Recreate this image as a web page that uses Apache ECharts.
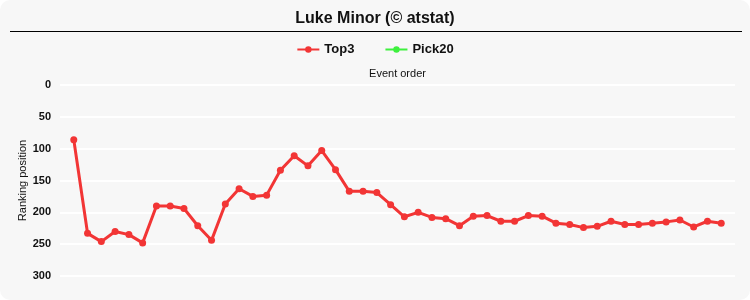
<!DOCTYPE html>
<html>
<head>
<meta charset="utf-8">
<script src="https://cdn.jsdelivr.net/npm/echarts@6/dist/echarts.min.js"></script>
<style>
html,body{margin:0;padding:0;background:#ffffff;}
#main{width:750px;height:300px;background:#f7f7f7;border-radius:10px;overflow:hidden;}
</style>
</head>
<body>
<div id="main"></div>
<script>
var titleText = 'Luke Minor (\u00A9 atstat)';
var seriesNames = ['Top3', 'Pick20'];
var eventIndex = [1,2,3,4,5,6,7,8,9,10,11,12,13,14,15,16,17,18,19,20,21,22,23,24,25,26,27,28,29,30,31,32,33,34,35,36,37,38,39,40,41,42,43,44,45,46,47,48];
var top3 = [86,233,246,230,235,248,190,190,194,221,244,187,163,175,173,134,111,127,103,133,167,167,169,188,207,200,208,210,221,206,205,214,214,205,206,217,219,224,222,214,219,219,217,215,212,223,214,217];
var pick20 = [];
var yTicks = [0,50,100,150,200,250,300];

var chart = echarts.init(document.getElementById('main'), null, {renderer:'canvas'});
var top3Data = eventIndex.map(function(x,i){return [x, top3[i]];});
var pick20Data = pick20.map(function(v,i){return [eventIndex[i], v];});

chart.setOption({
  backgroundColor: 'transparent',
  animation: false,
  title: {
    text: titleText,
    left: 'center',
    top: 6,
    textStyle: {fontFamily: 'Liberation Sans, Arial, sans-serif', fontSize: 16, fontWeight: 'bold', color: '#111'}
  },
  graphic: [{
    type: 'line',
    shape: {x1: 10, y1: 31.5, x2: 742, y2: 31.5},
    style: {stroke: '#000', lineWidth: 1}
  }],
  legend: {
    top: 38,
    left: 'center',
    itemGap: 30,
    itemWidth: 22,
    itemHeight: 8,
    textStyle: {fontFamily: 'Liberation Sans, Arial, sans-serif', fontSize: 13, fontWeight: 'bold', color: '#111'},
    data: seriesNames
  },
  grid: {left: 60, right: 15, top: 85, bottom: 24},
  xAxis: {
    type: 'value',
    position: 'top',
    min: 0,
    max: 49,
    name: 'Event order',
    nameLocation: 'middle',
    nameGap: 11,
    nameTextStyle: {fontFamily: 'Liberation Sans, Arial, sans-serif', fontSize: 11, color: '#111', verticalAlign: 'middle'},
    axisLine: {show: false},
    axisTick: {show: false},
    axisLabel: {show: false},
    splitLine: {show: false}
  },
  yAxis: {
    type: 'value',
    inverse: true,
    min: yTicks[0],
    max: yTicks[yTicks.length-1],
    interval: yTicks[1]-yTicks[0],
    name: 'Ranking position',
    nameLocation: 'middle',
    nameGap: 32,
    nameMoveOverlap: false,
    nameTextStyle: {fontFamily: 'Liberation Sans, Arial, sans-serif', fontSize: 11, color: '#111'},
    axisLine: {show: false},
    axisTick: {show: false},
    axisLabel: {fontFamily: 'Liberation Sans, Arial, sans-serif', fontSize: 11, fontWeight: 'bold', color: '#111', margin: 9},
    splitLine: {show: true, lineStyle: {color: '#ffffff', width: 2}}
  },
  series: [{
    name: seriesNames[0],
    type: 'line',
    data: top3Data,
    color: '#f23535',
    symbol: 'circle',
    symbolSize: 7,
    lineStyle: {width: 3, color: '#f23535'},
    itemStyle: {color: '#f23535'}
  }, {
    name: seriesNames[1],
    type: 'line',
    data: pick20Data,
    color: '#3ef03e',
    symbol: 'circle',
    symbolSize: 7,
    lineStyle: {width: 3, color: '#3ef03e'},
    itemStyle: {color: '#3ef03e'}
  }]
});
</script>
</body>
</html>
